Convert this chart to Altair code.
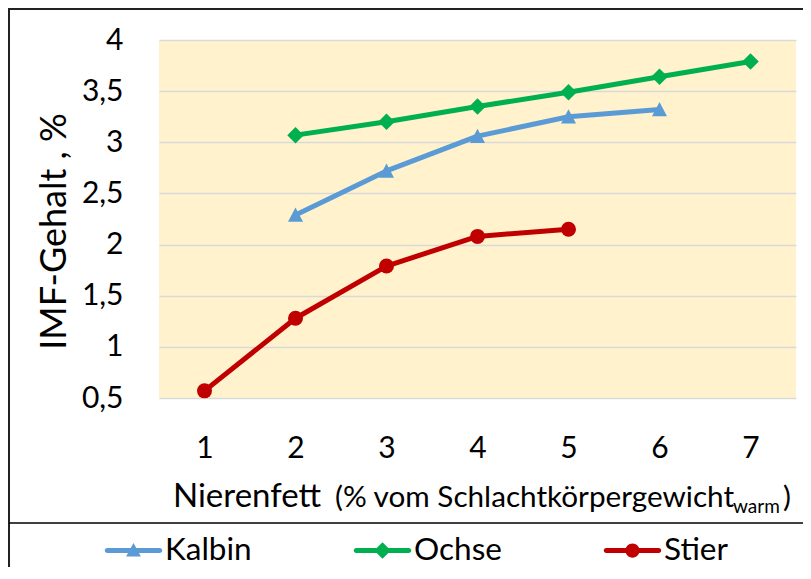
import altair as alt
import pandas as pd

# ---- data ----
x_vals = [1, 2, 3, 4, 5, 6, 7]
kalbin = [None, 2.29, 2.72, 3.06, 3.25, 3.32, None]
ochse = [None, 3.07, 3.20, 3.35, 3.49, 3.64, 3.79]
stier = [0.57, 1.28, 1.79, 2.08, 2.15, None, None]
series = ["Kalbin", "Ochse", "Stier"]
y_ticks = [0.5, 1, 1.5, 2, 2.5, 3, 3.5, 4]

colors = ["#5B9BD5", "#00B050", "#C00000"]
FONT = "Lato"
W, H = 637, 358

rows = []
for name, vals in zip(series, [kalbin, ochse, stier]):
    for xv, yv in zip(x_vals, vals):
        if yv is not None:
            rows.append({"Serie": name, "x": xv, "y": yv})
df = pd.DataFrame(rows)

x_enc = alt.X(
    "x:Q",
    scale=alt.Scale(domain=[0.5, 7.5], nice=False, zero=False),
    axis=alt.Axis(values=x_vals, title=None, grid=False, ticks=False, domain=False,
                  labelFont=FONT, labelFontSize=30, labelPadding=35, labelColor="#000000"),
)
y_enc = alt.Y(
    "y:Q",
    scale=alt.Scale(domain=[0.5, 4], nice=False, zero=False),
    axis=alt.Axis(values=y_ticks, title="IMF-Gehalt , %", grid=True, gridColor="#D9D9D9",
                  gridWidth=1.5, ticks=False, domain=False,
                  labelFont=FONT, labelFontSize=30, labelPadding=36, labelColor="#000000",
                  labelExpr="replace(format(datum.value, '~g'), '.', ',')",
                  titleFont=FONT, titleFontSize=36, titleFontWeight="normal", titleColor="#000000",
                  titleAngle=-90, titleX=-94, titleY=191, titleAlign="center",
                  titleBaseline="alphabetic"),
)
color_enc = alt.Color("Serie:N", scale=alt.Scale(domain=series, range=colors), legend=None)

base = alt.Chart(df)

lines = base.mark_line(strokeWidth=5, strokeCap="round", strokeJoin="round").encode(
    x=x_enc, y=y_enc, color=color_enc
)

marker_expr = ("datum.Serie == 'Kalbin' ? 'M0,-1L1,0.9L-1,0.9Z' : "
               "datum.Serie == 'Ochse' ? 'M0,-1.1L1.1,0L0,1.1L-1.1,0Z' : 'circle'")
points = base.transform_calculate(marker=marker_expr).mark_point(
    filled=True, opacity=1, size=225
).encode(x=x_enc, y=y_enc, color=color_enc, shape=alt.Shape("marker:N", scale=None))

bar = "M-0.92,-0.088H0.92A0.088,0.088 0 0 1 0.92,0.088H-0.92A0.088,0.088 0 0 1 -0.92,-0.088Z"
leg_paths = [
    bar + " M0,-0.26L0.26,0.21H-0.26Z",
    bar + " M0,-0.29L0.29,0L0,0.29L-0.29,0Z",
    bar + " M-0.25,0A0.25,0.25 0 1 1 0.25,0A0.25,0.25 0 1 1 -0.25,0Z",
]
leg = alt.Legend(orient="none", legendX=-54, legendY=482, direction="horizontal", title=None,
                 labelFont=FONT, labelFontSize=31.5, labelColor="#000000", symbolSize=3249,
                 symbolOpacity=1, symbolStrokeWidth=0, columnPadding=101, labelOffset=3,
                 padding=0)
legend_layer = base.mark_point(filled=True, size=0).encode(
    x=x_enc, y=y_enc,
    shape=alt.Shape("Serie:N", scale=alt.Scale(domain=series, range=leg_paths), legend=leg),
    fill=alt.Fill("Serie:N", scale=alt.Scale(domain=series, range=colors), legend=leg),
)

one = pd.DataFrame({"a": [0]})
border = alt.Chart(one).mark_rect(filled=False, stroke="#222222", strokeWidth=2).encode(
    x=alt.value(-150), x2=alt.value(700), y=alt.value(-31), y2=alt.value(650)
)
sep = alt.Chart(one).mark_rule(stroke="#000000", strokeWidth=1.5).encode(
    x=alt.value(-150), x2=alt.value(700), y=alt.value(483)
)

title_parts = [
    ("Nierenfett", 33, 14, 467),
    ("(% vom Schlachtkörpergewicht", 29.7, 176, 467),
    ("warm", 19, 574, 473),
    (")", 29.7, 624, 467),
]
title_layers = [
    alt.Chart(one).mark_text(text=t, font=FONT, fontSize=fs, align="left",
                             baseline="alphabetic", color="#000000").encode(
        x=alt.value(px), y=alt.value(py))
    for t, fs, px, py in title_parts
]

chart = alt.layer(lines, points, legend_layer, border, sep, *title_layers).resolve_scale(
    shape="independent", fill="independent"
).properties(
    width=W, height=H,
    autosize=alt.AutoSizeParams(type="none"),
    padding={"left": 151, "top": 32, "right": 7, "bottom": 169},
    background="#FFFFFF",
).configure_view(fill="#FFF2CC", stroke=None)

chart.save("out.html", embed_options={"renderer": "svg", "actions": False})
